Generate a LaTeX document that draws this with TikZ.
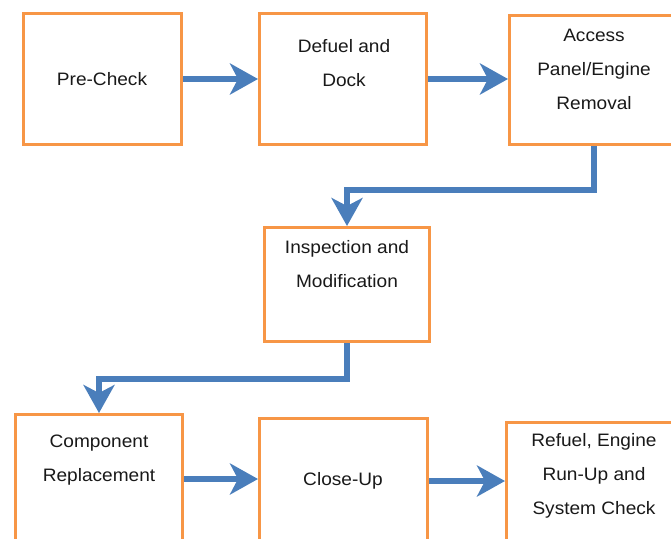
\documentclass[tikz,border=0pt]{standalone}
\usepackage{fontspec}
\setmainfont{Liberation Sans}[FakeStretch=1.06]
\usetikzlibrary{arrows.meta}
\definecolor{boxorange}{RGB}{247,150,70}
\definecolor{flowblue}{RGB}{74,126,187}
\tikzset{
  box/.style={draw=boxorange, line width=3pt, fill=white, shape=rectangle, inner sep=0pt},
  lbl/.style={align=center, text=black!90, font=\fontsize{18}{34}\selectfont},
  flow/.style={draw=flowblue, line width=6.5pt,
    -{Stealth[length=28pt, width=31pt, inset=8pt]}}
}
\begin{document}
\begin{tikzpicture}[x=1pt, y=-1pt]
    \useasboundingbox (0,0) rectangle (671,538);
    \node [box, minimum width=158pt, minimum height=131pt] (precheck) at (102.5,79) {};
    \node [box, minimum width=167pt, minimum height=131pt] (defuel) at (343,79) {};
    \node [box, minimum width=169pt, minimum height=129pt] (access) at (594,80) {};
    \node [box, minimum width=165pt, minimum height=114pt] (inspect) at (347,284.5) {};
    \node [box, minimum width=167pt, minimum height=129pt] (component) at (99,479) {};
    \node [box, minimum width=168pt, minimum height=125pt] (closeup) at (343.5,481) {};
    \node [box, minimum width=175pt, minimum height=121pt] (refuel) at (594,483) {};
    \node [lbl] (precheckT) at (102,79) {Pre-Check};
    \node [lbl] (defuelT) at (344,63) {Defuel and\\Dock};
    \node [lbl] (accessT) at (594,69.5) {Access\\Panel/Engine\\Removal};
    \node [lbl] (inspectT) at (347,264) {Inspection and\\Modification};
    \node [lbl] (componentT) at (99,460) {Component\\Replacement};
    \node [lbl] (closeupT) at (343,481) {Close-Up};
    \node [lbl] (refuelT) at (594,476) {Refuel, Engine\\Run-Up and\\System Check};
    \draw [flow] (precheck.east) -- (defuel.west);
    \draw [flow] (defuel.east) -- (access.west |- defuel.east);
    \draw [flow] (access.south) -- ++(0,44) -| (inspect.north);
    \draw [flow] (inspect.south) -- ++(0,36) -| (component.north);
    \draw [flow] (component.east) -- (closeup.west |- component.east);
    \draw [flow] (closeup.east) -- (refuel.west |- closeup.east);
  \end{tikzpicture}
\end{document}
